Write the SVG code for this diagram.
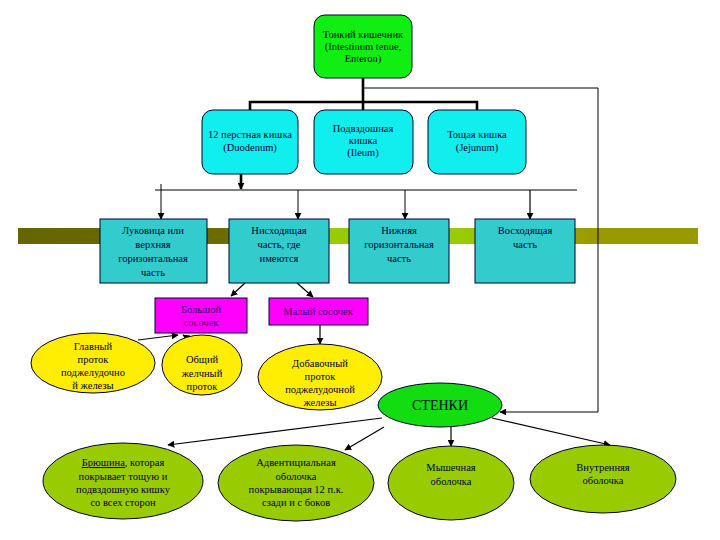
<svg xmlns="http://www.w3.org/2000/svg" width="720" height="540" viewBox="0 0 720 540">
<style>
text{font-family:"Liberation Serif","Times New Roman",serif;font-size:10.5px;fill:#000033;text-anchor:middle}
.box{stroke:#000033;stroke-width:1}
.ln{stroke:#000;stroke-width:1.2;fill:none}
.thk{stroke:#000;stroke-width:2.6;fill:none}
.thin{stroke:#000;stroke-width:1;fill:none}
</style>
<defs>
<marker id="ah" viewBox="0 0 10 10" refX="9" refY="5" markerWidth="7" markerHeight="7" markerUnits="userSpaceOnUse" orient="auto"><path d="M0,0L10,5L0,10z" fill="#000"/></marker>
<linearGradient id="bar" x1="0" x2="1" y1="0" y2="0">
<stop offset="0" stop-color="#666600"/><stop offset="0.3" stop-color="#6b6b00"/><stop offset="0.45" stop-color="#99cc00"/><stop offset="0.65" stop-color="#99cc00"/><stop offset="0.85" stop-color="#999900"/><stop offset="1" stop-color="#999900"/>
</linearGradient>
</defs>
<rect x="18" y="228" width="680" height="16" fill="url(#bar)"/>
<g id="connectors">
<path class="thk" d="M363,78V102M250,110V102H477V110M363,102V110"/>
<path class="thin" d="M363,88H598V412H500" marker-end="url(#ah)"/>
<path class="thk" d="M241,174V189" marker-end="url(#ah)"/>
<path class="thin" d="M155,190H577"/>
<path class="thin" d="M161,184V219" marker-end="url(#ah)"/>
<path class="thin" d="M298,190V219" marker-end="url(#ah)"/>
<path class="thin" d="M405,190V219" marker-end="url(#ah)"/>
<path class="ln" d="M530,190V219" marker-end="url(#ah)"/>
<path class="ln" d="M245,283L231,296" marker-end="url(#ah)"/>
<path class="ln" d="M297,283L313,297" marker-end="url(#ah)"/>
<path class="ln" d="M320,325V344" marker-end="url(#ah)"/>
<path class="ln" d="M138,340L178,335" marker-end="url(#ah)"/>
<path class="ln" d="M197,344L183,335" marker-end="url(#ah)"/>
<path class="ln" d="M382,418L168,445" marker-end="url(#ah)"/>
<path class="ln" d="M384,427L345,450" marker-end="url(#ah)"/>
<path class="ln" d="M451,427V446" marker-end="url(#ah)"/>
<path class="ln" d="M492,418L610,445" marker-end="url(#ah)"/>
</g>
<g id="n-top"><rect class="box" x="314" y="15" width="98" height="63" rx="11" fill="#11ee11"/>
<text x="363" y="38">Тонкий кишечник</text><text x="363" y="50">(Intestinum tenue,</text><text x="363" y="62">Enteron)</text></g>
<g id="n-duo"><rect class="box" x="202" y="110" width="96" height="64" rx="11" fill="#11eeee"/>
<text x="250" y="138">12 перстная кишка</text><text x="250" y="151">(Duodenum)</text></g>
<g id="n-ile"><rect class="box" x="314" y="110" width="99" height="64" rx="11" fill="#11eeee"/>
<text x="363" y="132">Подвздошная</text><text x="363" y="144">кишка</text><text x="363" y="156">(Ileum)</text></g>
<g id="n-jej"><rect class="box" x="428" y="110" width="98" height="64" rx="11" fill="#11eeee"/>
<text x="477" y="138">Тощая кишка</text><text x="477" y="151">(Jejunum)</text></g>
<g id="n-a"><rect class="box" x="100" y="219" width="107" height="64" fill="#33cccc"/>
<text x="153" y="234">Луковица или</text><text x="153" y="248">верхняя</text><text x="153" y="262">горизонтальная</text><text x="153" y="276">часть</text></g>
<g id="n-b"><rect class="box" x="229" y="219" width="100" height="64" fill="#33cccc"/>
<text x="279" y="234">Нисходящая</text><text x="279" y="248">часть, где</text><text x="279" y="262">имеются</text></g>
<g id="n-c"><rect class="box" x="349" y="219" width="100" height="64" fill="#33cccc"/>
<text x="399" y="234">Нижняя</text><text x="399" y="248">горизонтальная</text><text x="399" y="262">часть</text></g>
<g id="n-d"><rect class="box" x="475" y="219" width="100" height="64" fill="#33cccc"/>
<text x="525" y="234">Восходящая</text><text x="525" y="248">часть</text></g>
<g id="n-big"><rect class="box" x="155" y="298" width="92" height="35" fill="#ff00ff"/>
<text x="201" y="313" style="fill:#330066">Большой</text><text x="201" y="326" style="fill:#330066">сосочек</text></g>
<g id="n-small"><rect class="box" x="269" y="298" width="99" height="27" fill="#ff00ff"/>
<text x="318" y="315" style="fill:#330066">Малый сосочек</text></g>
<g id="n-main"><ellipse class="box" cx="93" cy="363" rx="62" ry="30" fill="#ffee00"/>
<text x="93" y="350">Главный</text><text x="93" y="363">проток</text><text x="93" y="376">поджелудочно</text><text x="93" y="389">й железы</text></g>
<g id="n-common"><ellipse class="box" cx="202" cy="365" rx="40" ry="30" fill="#ffee00"/>
<text x="202" y="363">Общий</text><text x="202" y="377">желчный</text><text x="202" y="390">проток</text></g>
<g id="n-acc"><ellipse class="box" cx="320" cy="377" rx="62" ry="33" fill="#ffee00"/>
<text x="320" y="367">Добавочный</text><text x="320" y="380">проток</text><text x="320" y="393">поджелудочной</text><text x="320" y="406">железы</text></g>
<g id="n-walls"><ellipse class="box" cx="440" cy="405" rx="62" ry="22" fill="#11dd11"/>
<text x="440" y="410" style="font-size:14px">СТЕНКИ</text></g>
<g id="n-per"><ellipse class="box" cx="123" cy="481" rx="80" ry="38" fill="#99cc00"/>
<text x="123" y="466"><tspan text-decoration="underline">Брюшина</tspan>, которая</text><text x="123" y="480">покрывает тощую и</text><text x="123" y="493">подвздошную кишку</text><text x="123" y="506">со всех сторон</text></g>
<g id="n-adv"><ellipse class="box" cx="296" cy="483" rx="78" ry="38" fill="#99cc00"/>
<text x="296" y="466">Адвентициальная</text><text x="296" y="480">оболочка</text><text x="296" y="493">покрывающая 12 п.к.</text><text x="296" y="506">сзади и с боков</text></g>
<g id="n-mus"><ellipse class="box" cx="451" cy="483" rx="63" ry="37" fill="#99cc00"/>
<text x="451" y="471">Мышечная</text><text x="451" y="485">оболочка</text></g>
<g id="n-inn"><ellipse class="box" cx="603" cy="479" rx="73" ry="34" fill="#99cc00"/>
<text x="603" y="471">Внутренняя</text><text x="603" y="484">оболочка</text></g>
</svg>
